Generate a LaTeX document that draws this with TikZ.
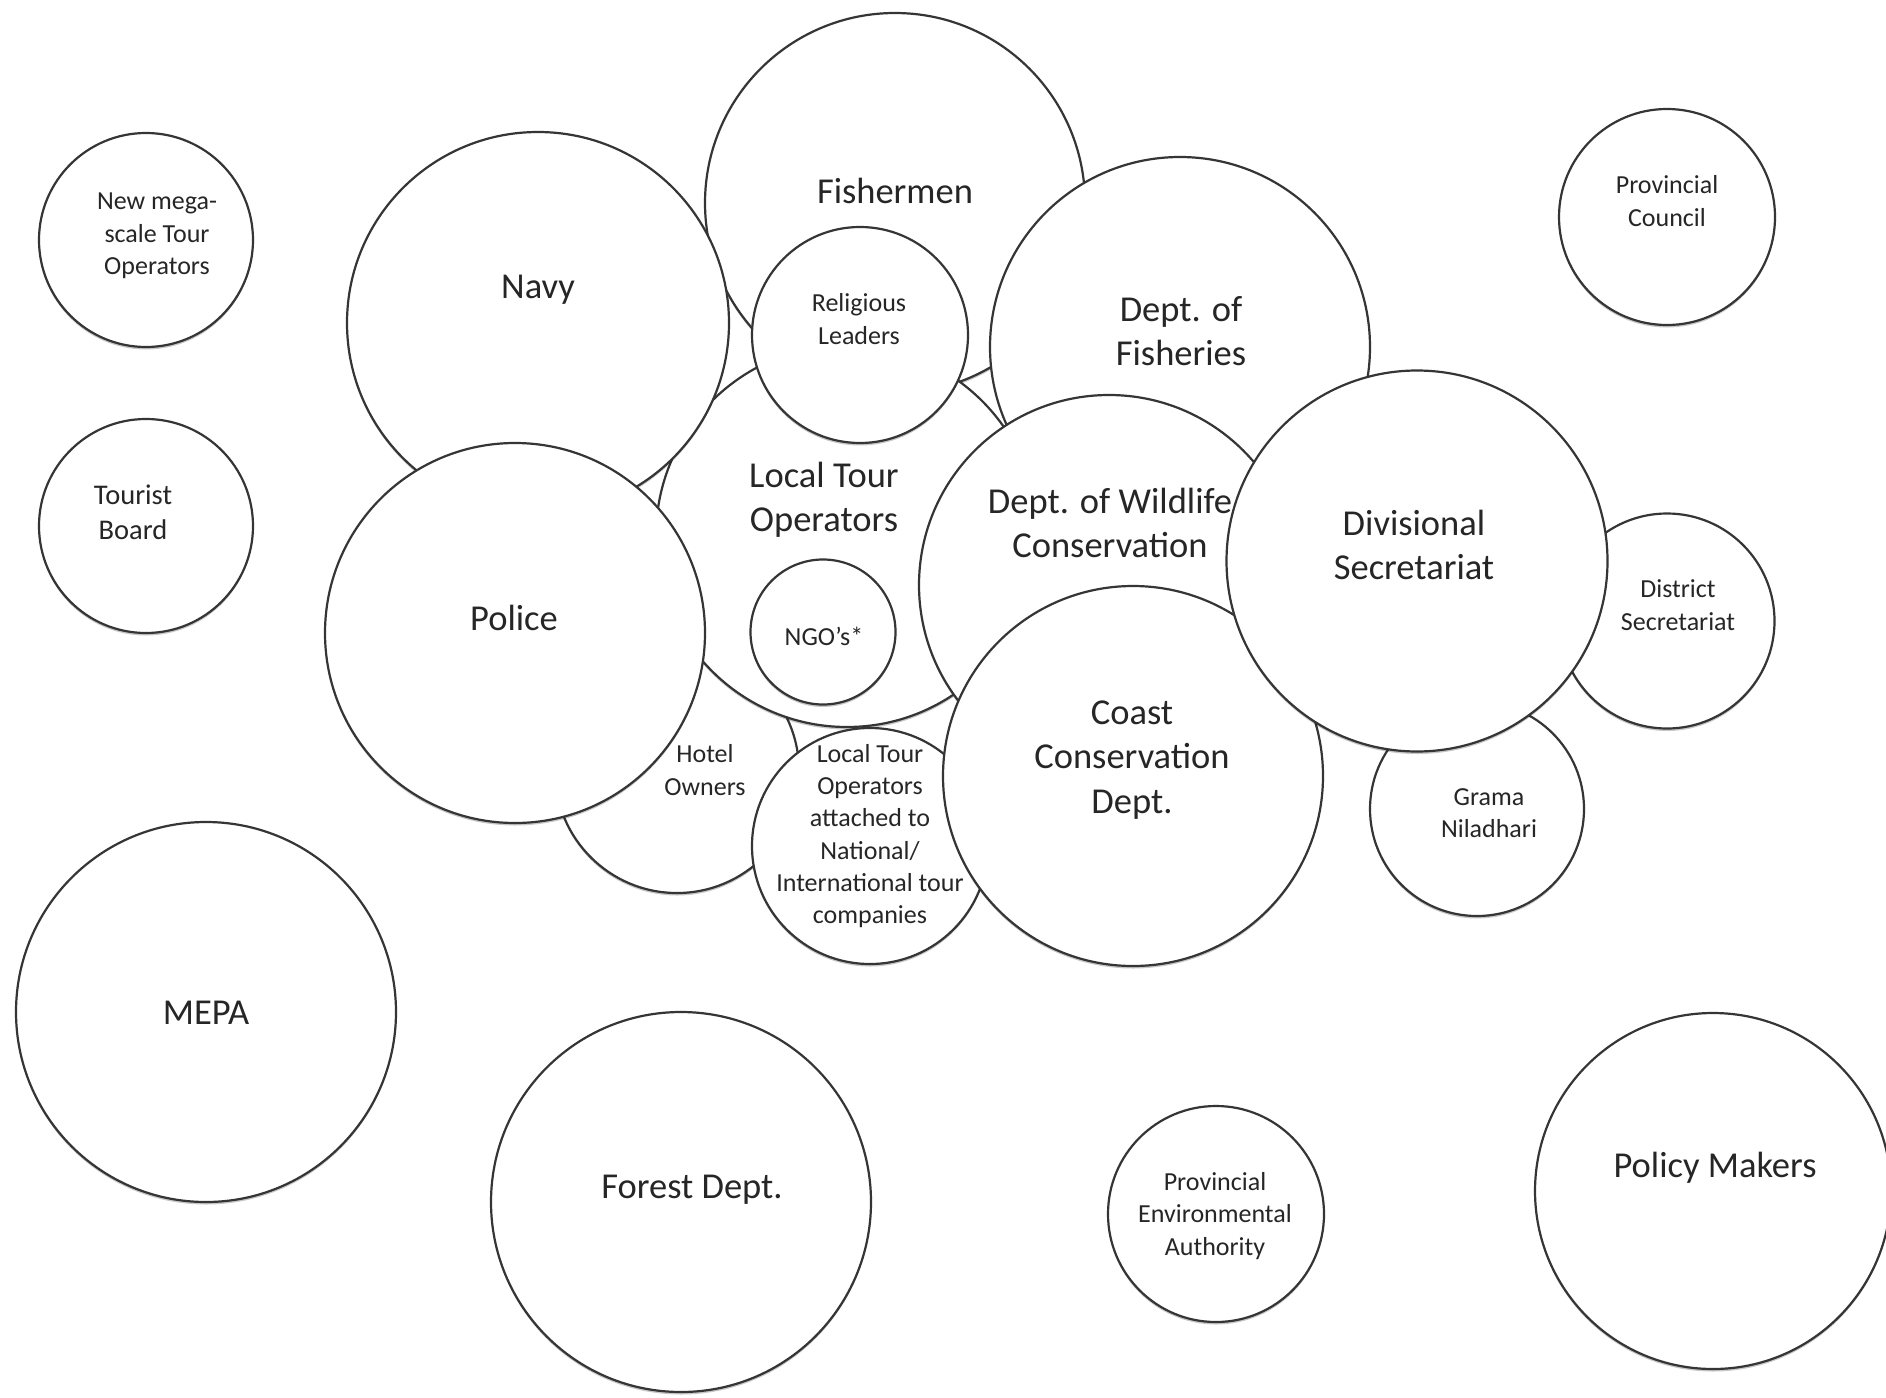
\documentclass[tikz,border=0pt]{standalone}
\usepackage{fontspec}
\setmainfont{Carlito}
\usetikzlibrary{shadows}
\definecolor{linec}{HTML}{353535}
\definecolor{textc}{HTML}{262626}
\begin{document}
\begin{tikzpicture}[x=1pt,y=-1pt,
  bub/.style={circle, draw=linec, line width=2.2pt, fill=white, inner sep=0pt, minimum size=#1,
    drop shadow={shadow xshift=0pt, shadow yshift=-2.5pt, opacity=0.22, fill=black}},
  big/.style={text=textc, align=center, inner sep=0pt, font=\fontsize{36.5}{44.5}\selectfont},
  small/.style={text=textc, align=center, inner sep=0pt, font=\fontsize{26}{32.3}\selectfont},
  mid/.style={text=textc, align=center, inner sep=0pt, font=\fontsize{28.5}{35}\selectfont}]
\useasboundingbox[fill=white] (0,0) rectangle (1886,1397);

% central cluster, bottom to top
\node[bub=380] (fishermen) at (895,203) {};
\node[bub=244] (hotel) at (677,771) {};
\node[bub=382] (lto) at (847,536) {};
\node[bub=382] (navy) at (538,323) {};
\node[bub=380] (police) at (515,633) {};
\node[bub=216] (religious) at (860,335) {};
\node[bub=145] (ngo) at (823,632) {};
\node[bub=380] (fisheries) at (1180,347) {};
\node[bub=380] (wildlife) at (1109,585) {};
\node[bub=236] (attached) at (870,846) {};
\node[bub=380] (coast) at (1133,776) {};
\node[bub=215] (district) at (1667,621) {};
\node[bub=214] (grama) at (1477,809) {};
\node[bub=381] (divisional) at (1417,561) {};

% outer circles
\node[bub=214] (newmega) at (146,240) {};
\node[bub=214] (tourist) at (146,526) {};
\node[bub=380] (mepa) at (206,1012) {};
\node[bub=380] (forest) at (681,1202) {};
\node[bub=216] (pea) at (1216,1214) {};
\node[bub=356] (policy) at (1713,1191) {};
\node[bub=216] (council) at (1667,217) {};

% labels
\node[big] (tnavy) at (538,290) {Navy};
\node[big] (tfishermen) at (895,191) {Fishermen};
\node[small] (treligious) at (859,319) {Religious\\Leaders};
\node[big] (tfisheries) at (1181,331) {Dept. of\\Fisheries};
\node[big] (tlto) at (824,500) {Local Tour\\Operators};
\node[small] (tngo) at (824,636) {NGO's*};
\node[big] (twildlife) at (1110,523) {Dept. of Wildlife\\Conservation};
\node[big] (tdivisional) at (1414,545) {Divisional\\Secretariat};
\node[small] (tdistrict) at (1678,605) {District\\Secretariat};
\node[small] (tgrama) at (1489,813) {Grama\\Niladhari};
\node[big] (tpolice) at (514,618) {Police};
\node[small] (thotel) at (705,770) {Hotel\\Owners};
\node[small] (tattached) at (870,836) {Local Tour\\Operators\\attached to\\National/\\International tour\\companies};
\node[big] (tcoast) at (1132,760) {Coast\\Conservation\\Dept.};
\node[big] (tmepa) at (206,1013) {MEPA};
\node[big] (tforest) at (692,1190) {Forest Dept.};
\node[small] (tpea) at (1215,1216) {Provincial\\Environmental\\Authority};
\node[big] (tpolicy) at (1715,1168) {Policy Makers};
\node[small] (tcouncil) at (1667,201) {Provincial\\Council};
\node[small] (tnewmega) at (157,236) {New mega-\\scale Tour\\Operators};
\node[mid] (ttourist) at (133,512) {Tourist\\Board};
\end{tikzpicture}
\end{document}
